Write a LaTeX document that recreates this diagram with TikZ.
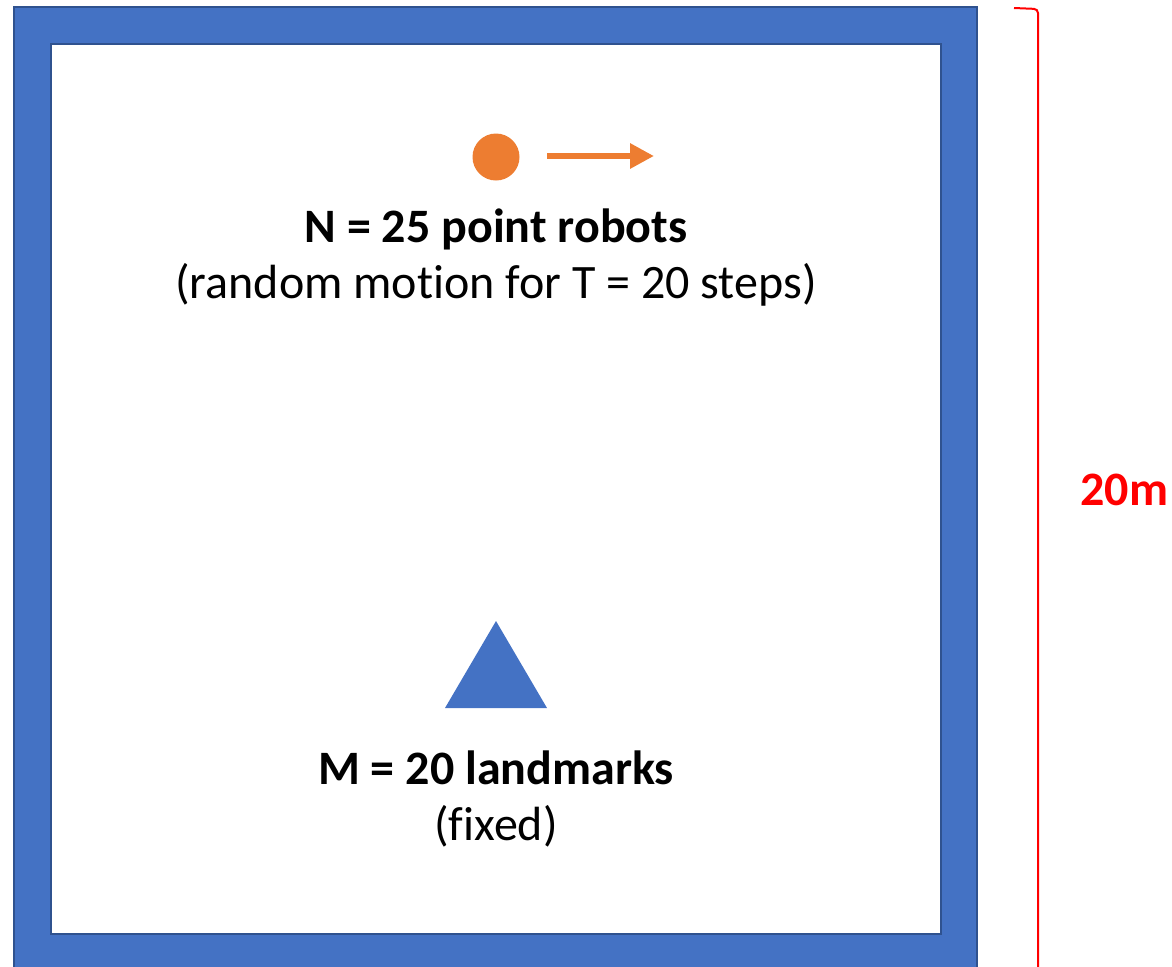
\documentclass[tikz,border=0pt]{standalone}
\usepackage{fontspec}
\setmainfont{Carlito}[Ligatures={NoCommon,NoContextual}]
\usetikzlibrary{arrows.meta}
\definecolor{frameblue}{HTML}{4472C4}
\definecolor{edgeblue}{HTML}{2F528F}
\definecolor{robotorange}{HTML}{ED7D31}
\definecolor{sizered}{HTML}{FF0000}
\tikzset{
  bigtext/.style={anchor=base,inner sep=0pt,font=\fontsize{24}{29}\selectfont},
  boldtext/.style={bigtext,font=\bfseries\fontsize{24}{29}\selectfont}
}
\begin{document}
\begin{tikzpicture}[x=0.5pt,y=-0.5pt,line join=miter]
  \useasboundingbox (0,0) rectangle (1172,966);
  \clip (0,0) rectangle (1172,966);
  % arena walls
  \fill[frameblue,even odd rule] (14,7) rectangle (977,985) (51,44) rectangle (941,934);
  \draw[edgeblue,line width=1pt] (14,7) rectangle (977,985);
  \draw[edgeblue,line width=1pt] (51,44) rectangle (941,934);
  % robot and its motion
  \node[circle,fill=robotorange,inner sep=0pt,minimum size=23.5pt] (robot) at (496,157) {};
  \coordinate (motionstart) at (547,156);
  \coordinate (motionend) at (654,156);
  \draw[robotorange,line width=3pt,-{Triangle[length=12pt,width=12pt]}] (motionstart) -- (motionend);
  \node[boldtext] (robotlabel) at (496,242) {N = 25 point robots};
  \node[bigtext] (motionlabel) at (496,298) {(random mo{}tion for T = 20 steps)};
  % landmark
  \fill[frameblue] (496,621) -- (547,708) -- (445,708) -- cycle;
  \node[boldtext] (landmarklabel) at (496,784) {M = 20 landmarks};
  \node[bigtext] (fixedlabel) at (496,840) {(f{}ixed)};
  % size bracket
  \coordinate (brackettop) at (1014,8);
  \coordinate (bracketcorner) at (1038,9);
  \coordinate (bracketbottom) at (1038,985);
  \draw[sizered,line width=1pt,rounded corners=2pt] (brackettop) -- (bracketcorner) -- (bracketbottom);
  \node[boldtext,anchor=base west,text=sizered] (sizelabel) at (1080,505) {20m};
\end{tikzpicture}
\end{document}
